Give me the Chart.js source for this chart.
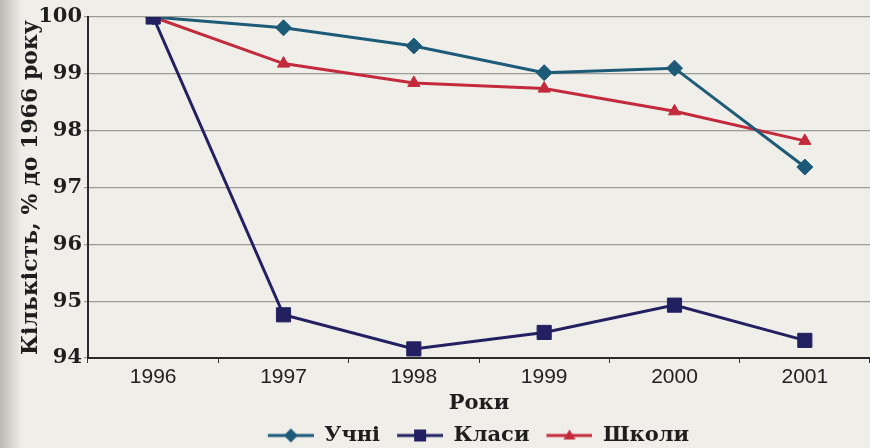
<!DOCTYPE html>
<html><head><meta charset="utf-8">
<script src="https://cdn.jsdelivr.net/npm/chart.js@4.4.0/dist/chart.umd.min.js"></script>
<style>html,body{margin:0;padding:0;background:#efeee9;}canvas{display:block;}</style>
</head><body>
<canvas id="c" width="870" height="448"></canvas>
<script>
const years = ['1996','1997','1998','1999','2000','2001'];
const uchni = [100, 99.81, 99.49, 99.02, 99.10, 97.36];
const klasy = [100, 94.76, 94.16, 94.45, 94.93, 94.31];
const shkoly = [100, 99.18, 98.84, 98.74, 98.34, 97.82];
const seriesNames = ['Учні', 'Класи', 'Школи'];
const yTitle = 'Кількість, % до 1966 року';
const xTitle = 'Роки';

const cols = ['#1d5a78', '#222060', '#c32a3c'];
const styles = ['rectRot', 'rect', 'triangle'];
const radii = [8, 10, 7];

const ICON_M = 13, ICON_L = 46;
function legendIcon(color, style) {
  const cv = document.createElement('canvas');
  cv.width = ICON_M + ICON_L; cv.height = 18;
  const g = cv.getContext('2d');
  const cx = ICON_M + ICON_L / 2;
  g.strokeStyle = color; g.lineWidth = 3;
  g.beginPath(); g.moveTo(ICON_M, 9); g.lineTo(ICON_M + ICON_L, 9); g.stroke();
  g.fillStyle = color;
  g.beginPath();
  if (style === 'rectRot') { g.moveTo(cx, 2); g.lineTo(cx + 7, 9); g.lineTo(cx, 16); g.lineTo(cx - 7, 9); }
  else if (style === 'rect') { g.rect(cx - 6, 3, 12, 12); }
  else { g.moveTo(cx, 3); g.lineTo(cx + 6, 13); g.lineTo(cx - 6, 13); }
  g.closePath(); g.fill();
  return cv;
}

const bg = {
  id: 'bg',
  afterLayout(chart) {
    if (chart.legend) { chart.legend.left -= 7; chart.legend.right -= 7; }
  },
  beforeDraw(chart) {
    const ctx = chart.ctx;
    ctx.save();
    ctx.fillStyle = '#efeee9';
    ctx.fillRect(0, 0, chart.width, chart.height);
    const gr = ctx.createLinearGradient(0, 0, 22, 0);
    gr.addColorStop(0, 'rgba(120,120,115,0.45)');
    gr.addColorStop(1, 'rgba(120,120,115,0)');
    ctx.fillStyle = gr;
    ctx.fillRect(0, 0, 22, chart.height);
    ctx.restore();
  }
};

const values = [uchni, klasy, shkoly];
const datasets = seriesNames.map((n, i) => ({
  label: n,
  data: values[i],
  borderColor: cols[i],
  backgroundColor: cols[i],
  borderWidth: 3,
  pointStyle: styles[i],
  pointRadius: radii[i],
  pointHoverRadius: radii[i],
  pointBackgroundColor: cols[i],
  pointBorderColor: cols[i],
  pointBorderWidth: 1,
  tension: 0,
  order: i === 1 ? 0 : (i === 0 ? 1 : 2)
}));

const serif = 'DejaVu Serif';

new Chart(document.getElementById('c'), {
  type: 'line',
  data: { labels: years, datasets },
  plugins: [bg],
  options: {
    responsive: false,
    animation: false,
    events: [],
    layout: { autoPadding: false, padding: { left: 0, right: 0, top: 17, bottom: -8 } },
    plugins: {
      tooltip: { enabled: false },
      legend: {
        position: 'bottom',
        fullSize: false,
        labels: {
          usePointStyle: true,
          pointStyleWidth: ICON_M + ICON_L,
          padding: 4,
          color: '#1e1e1e',
          font: { family: serif, size: 21, weight: 'bold' },
          generateLabels(chart) {
            return chart.data.datasets.map((d, i) => ({
              text: d.label,
              pointStyle: legendIcon(cols[i], styles[i]),
              fillStyle: cols[i], strokeStyle: cols[i], lineWidth: 0,
              fontColor: '#1e1e1e', hidden: false, datasetIndex: i
            }));
          }
        }
      }
    },
    scales: {
      x: {
        offset: true,
        afterFit(s) { s.height = 63; },
        grid: { display: true, drawOnChartArea: false, drawTicks: true, tickLength: 5, offset: true, color: '#333' },
        border: { display: true, color: '#2a2a2a', width: 2 },
        ticks: { color: '#222', padding: 2, font: { family: 'Liberation Sans', size: 21 } },
        title: { display: true, text: xTitle, color: '#1e1e1e', padding: { top: 0, bottom: 5 }, font: { family: serif, size: 21, weight: 'bold' } }
      },
      y: {
        min: 94, max: 100,
        afterFit(s) { s.width = 88; },
        ticks: { stepSize: 1, color: '#1e1e1e', padding: 2, font: { family: serif, size: 21, weight: 'bold' } },
        grid: { color: '#9a9a96', lineWidth: 1.2, tickLength: 4 },
        border: { display: true, color: '#2a2a2a', width: 2 },
        title: { display: true, text: yTitle, color: '#1e1e1e', padding: { top: 18, bottom: 0 }, font: { family: serif, size: 22, weight: 'bold' } }
      }
    }
  }
});
</script>
</body></html>
